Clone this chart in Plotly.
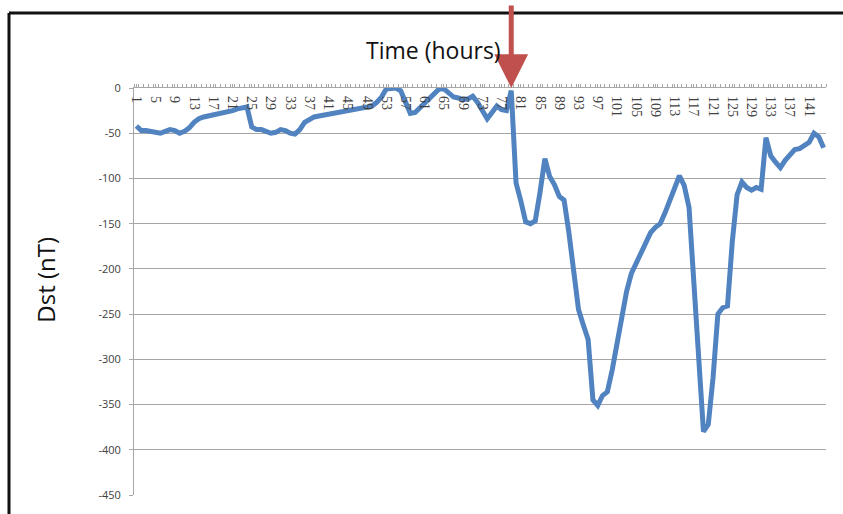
import plotly.graph_objects as go

# Hourly Dst index over six days (144 hours)
hours = list(range(1, 145))
dst_nt = [
    -42, -47, -47, -48, -50, -50, -48, -46, -47, -50,
    -48, -44, -38, -34, -32, -31, -30, -28, -28, -26,
    -25, -23, -22, -21, -43, -46, -46, -48, -50, -49,
    -46, -47, -50, -51, -46, -38, -35, -32, -31, -30,
    -29, -28, -27, -26, -26, -25, -24, -23, -22, -20,
    -16, -10, -1, 0, 0, -3, -14, -28, -27, -22,
    -16, -11, -6, -1, -1, -6, -10, -11, -13, -12,
    -9, -16, -26, -34, -27, -20, -24, -25, -3, -105,
    -125, -148, -150, -147, -115, -78, -98, -107, -120, -124,
    -160, -208, -245, -262, -278, -345, -351, -340, -336, -312,
    -282, -248, -225, -205, -193, -182, -172, -160, -154, -150,
    -138, -125, -110, -97, -108, -132, -215, -300, -380, -372,
    -320, -250, -243, -241, -170, -118, -104, -110, -113, -110,
    -112, -55, -75, -82, -88, -80, -74, -68, -67, -64,
    -60, -50, -54, -66,
]
tick_hours = hours[::4]
tick_labels = [str(h) for h in tick_hours]
y_ticks = list(range(0, -451, -50))
y_tick_labels = [str(v) for v in y_ticks]
storm_onset_hour = 79

W, H = 843, 514
M_L, M_R, M_T, M_B = 134, 17, 88, 14
plot_w = W - M_L - M_R
plot_h = H - M_T - M_B

grid = "#A6A6A6"
fig = go.Figure()
fig.add_trace(go.Scatter(
    x=hours, y=dst_nt, mode="lines",
    line=dict(color="#5083C0", width=5),
    hoverinfo="x+y", showlegend=False,
))


def px_to_paper_x(px):
    return (px - M_L) / plot_w


def px_to_paper_y(py):
    return (H - M_B - py) / plot_h


# black slide frame around the chart (left and top edges)
frame_left, frame_top = 9, 12
fig.add_shape(type="line", xref="paper", yref="paper",
              x0=px_to_paper_x(frame_left), x1=px_to_paper_x(frame_left),
              y0=px_to_paper_y(frame_top), y1=px_to_paper_y(H + 10),
              line=dict(color="#111111", width=3))
fig.add_shape(type="line", xref="paper", yref="paper",
              x0=px_to_paper_x(frame_left), x1=px_to_paper_x(W + 10),
              y0=px_to_paper_y(frame_top), y1=px_to_paper_y(frame_top),
              line=dict(color="#111111", width=3))

# arrow marking storm onset
fig.add_annotation(
    x=storm_onset_hour, y=0, xref="x", yref="y",
    ax=0, ay=-84, axref="pixel", ayref="pixel",
    text="", showarrow=True, arrowhead=2, arrowsize=1.35,
    arrowwidth=5, arrowcolor="#C0504D", standoff=0,
)

fig.add_annotation(
    text="Time (hours)", xref="paper", yref="paper",
    x=px_to_paper_x(433), y=px_to_paper_y(50), yanchor="middle", xanchor="center",
    showarrow=False, font=dict(family="Open Sans", size=23, color="#111111"),
)
fig.add_annotation(
    text="Dst (nT)", xref="paper", yref="paper",
    x=px_to_paper_x(46), y=px_to_paper_y(282), textangle=-90,
    xanchor="center", yanchor="middle",
    showarrow=False, font=dict(family="Open Sans", size=24, color="#111111"),
)

fig.update_layout(
    width=W, height=H,
    margin=dict(l=M_L, r=M_R, t=M_T, b=M_B),
    paper_bgcolor="white", plot_bgcolor="white",
    xaxis=dict(
        range=[0.5, 144.5], side="top",
        tickvals=tick_hours, ticktext=tick_labels, tickangle=90,
        ticks="outside", ticklen=3, tickcolor=grid,
        minor=dict(tick0=0.5, dtick=1, ticks="outside", ticklen=3, tickcolor=grid),
        ticklabelposition="inside", ticklabeloverflow="allow",
        tickfont=dict(family="Liberation Serif", size=14, color="#404040"),
        showline=True, linecolor=grid, linewidth=1,
        showgrid=False, zeroline=False,
    ),
    yaxis=dict(
        range=[-450, 0], tickvals=y_ticks, ticktext=y_tick_labels,
        ticks="outside", ticklen=4, tickcolor=grid,
        ticklabelstandoff=6,
        tickfont=dict(family="Open Sans", size=11, color="#404040"),
        showline=True, linecolor=grid, linewidth=1,
        showgrid=True, gridcolor=grid, gridwidth=1, zeroline=False,
    ),
)

fig.write_html("out.html")
